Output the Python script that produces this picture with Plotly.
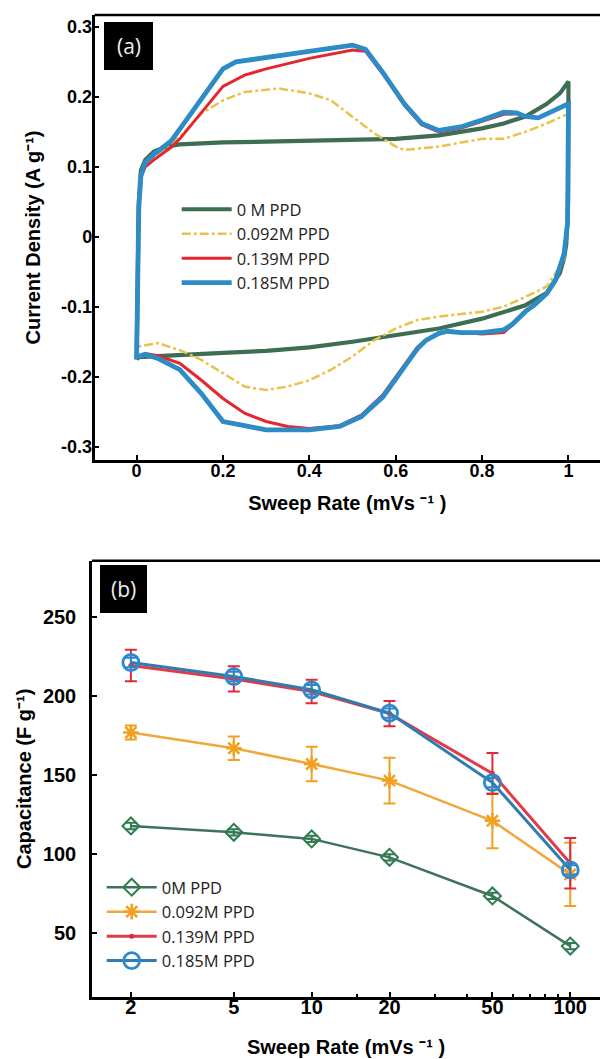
import plotly.graph_objects as go

W, H = 600, 1059

# ---------------- Panel (a): CV curves ----------------
series_a = ["0 M PPD", "0.092M PPD", "0.139M PPD", "0.185M PPD"]

green_fwd_x = [0, 0.002, 0.005, 0.01, 0.02, 0.04, 0.07, 0.1, 0.2, 0.3, 0.4, 0.5, 0.6, 0.7, 0.8, 0.85, 0.9, 0.95, 0.98, 1.0]
green_fwd_y = [-0.175, -0.05, 0.05, 0.095, 0.11, 0.122, 0.129, 0.132, 0.135, 0.136, 0.137, 0.138, 0.14, 0.145, 0.155, 0.162, 0.172, 0.19, 0.205, 0.222]
green_rev_x = [1.0, 0.999, 0.995, 0.99, 0.98, 0.95, 0.9, 0.8, 0.7, 0.6, 0.5, 0.4, 0.3, 0.2, 0.1, 0.05, 0.02, 0.005, 0]
green_rev_y = [0.222, 0.05, -0.01, -0.03, -0.052, -0.08, -0.098, -0.117, -0.131, -0.141, -0.15, -0.158, -0.163, -0.166, -0.169, -0.17, -0.171, -0.172, -0.175]

yellow_fwd_x = [0, 0.005, 0.02, 0.05, 0.1, 0.15, 0.2, 0.25, 0.33, 0.4, 0.45, 0.5, 0.55, 0.6, 0.62, 0.7, 0.8, 0.85, 0.9, 0.95, 1.0]
yellow_fwd_y = [-0.157, 0.079, 0.1, 0.119, 0.143, 0.176, 0.195, 0.207, 0.212, 0.205, 0.195, 0.171, 0.148, 0.129, 0.124, 0.129, 0.14, 0.14, 0.15, 0.162, 0.176]
yellow_rev_x = [1.0, 0.995, 0.99, 0.97, 0.95, 0.9, 0.85, 0.8, 0.7, 0.65, 0.6, 0.55, 0.5, 0.45, 0.4, 0.35, 0.3, 0.25, 0.2, 0.15, 0.1, 0.05, 0.02, 0]
yellow_rev_y = [0.176, 0.0, -0.033, -0.052, -0.071, -0.086, -0.1, -0.107, -0.114, -0.119, -0.131, -0.148, -0.171, -0.19, -0.205, -0.214, -0.219, -0.214, -0.195, -0.176, -0.162, -0.152, -0.155, -0.157]

red_fwd_x = [0, 0.002, 0.005, 0.01, 0.02, 0.04, 0.08, 0.1, 0.15, 0.2, 0.25, 0.3, 0.4, 0.47, 0.5, 0.53, 0.57, 0.62, 0.66, 0.7, 0.75, 0.8, 0.85, 0.88, 0.9, 0.93, 0.97, 1.0]
red_fwd_y = [-0.175, -0.05, 0.04, 0.085, 0.1, 0.11, 0.128, 0.14, 0.178, 0.215, 0.231, 0.24, 0.255, 0.263, 0.267, 0.265, 0.233, 0.188, 0.16, 0.15, 0.155, 0.165, 0.175, 0.176, 0.172, 0.17, 0.182, 0.19]
red_rev_x = [1.0, 0.998, 0.99, 0.97, 0.95, 0.92, 0.9, 0.87, 0.85, 0.8, 0.75, 0.72, 0.7, 0.67, 0.65, 0.62, 0.57, 0.52, 0.47, 0.4, 0.35, 0.3, 0.25, 0.2, 0.15, 0.1, 0.05, 0.02, 0]
red_rev_y = [0.19, 0.02, -0.024, -0.06, -0.08, -0.097, -0.106, -0.126, -0.137, -0.139, -0.137, -0.135, -0.137, -0.147, -0.158, -0.183, -0.226, -0.255, -0.27, -0.274, -0.271, -0.264, -0.252, -0.231, -0.205, -0.181, -0.17, -0.167, -0.172]

blue_fwd_x = [0, 0.002, 0.005, 0.01, 0.02, 0.04, 0.08, 0.1, 0.15, 0.2, 0.23, 0.3, 0.4, 0.47, 0.5, 0.53, 0.57, 0.62, 0.66, 0.7, 0.75, 0.8, 0.85, 0.88, 0.9, 0.93, 0.97, 1.0]
blue_fwd_y = [-0.175, -0.05, 0.04, 0.088, 0.106, 0.118, 0.137, 0.154, 0.197, 0.24, 0.25, 0.256, 0.265, 0.272, 0.274, 0.268, 0.235, 0.19, 0.162, 0.152, 0.157, 0.167, 0.178, 0.177, 0.172, 0.17, 0.182, 0.19]
blue_rev_x = [1.0, 0.998, 0.99, 0.97, 0.95, 0.92, 0.9, 0.87, 0.85, 0.8, 0.75, 0.72, 0.7, 0.67, 0.65, 0.62, 0.57, 0.52, 0.47, 0.4, 0.3, 0.25, 0.2, 0.15, 0.1, 0.05, 0.02, 0]
blue_rev_y = [0.19, 0.02, -0.024, -0.062, -0.081, -0.098, -0.107, -0.125, -0.133, -0.137, -0.137, -0.135, -0.138, -0.148, -0.16, -0.186, -0.229, -0.257, -0.271, -0.276, -0.276, -0.27, -0.264, -0.224, -0.19, -0.174, -0.168, -0.172]

a_xticks = [0, 0.2, 0.4, 0.6, 0.8, 1]
a_xticktext = ["0", "0.2", "0.4", "0.6", "0.8", "1"]
a_yticks = [-0.3, -0.2, -0.1, 0, 0.1, 0.2, 0.3]
a_yticktext = ["-0.3", "-0.2", "-0.1", "0", "0.1", "0.2", "0.3"]

# ---------------- Panel (b): capacitance vs sweep rate ----------------
series_b = ["0M PPD", "0.092M PPD", "0.139M PPD", "0.185M PPD"]
sweep_rates = [2, 5, 10, 20, 50, 100]
cap_0M = [117.7, 113.7, 109.5, 97.8, 73.3, 41.5]
err_0M = [2, 2, 2, 2, 2, 2]
cap_092M = [177, 167, 157, 146.5, 121, 87]
err_092M = [4.5, 7.5, 11, 14.5, 17.5, 20]
cap_139M = [219.5, 211, 203, 189, 151, 94]
err_139M = [10, 8, 7.5, 8, 13, 16]
cap_185M = [221.4, 212.5, 204.1, 189.3, 145.2, 89.8]
err_185M = [3, 3, 3, 3, 3, 3]
b_xticktext = ["2", "5", "10", "20", "50", "100"]
b_minor_ticks = [15, 30, 40, 60, 70, 80, 90]
b_yticks = [50, 100, 150, 200, 250]

x_title = "Sweep Rate (mVs \u207b\u00b9 )"
ya_title = "Current Density (A g\u207b\u00b9)"
yb_title = "Capacitance (F g\u207b\u00b9)"

# ---------------- style ----------------
FAM = "Liberation Sans, Arial"
TICKFONT_A = dict(family=FAM, size=18, color="black", weight="bold")
TICKFONT_B = dict(family=FAM, size=20, color="black", weight="bold")
TITLEFONT = dict(family=FAM, size=20, color="black", weight="bold")
LEGFONT = dict(family="Open Sans", size=16.5, color="#222")

fig = go.Figure()

a_style = [
    (green_fwd_x + green_rev_x, green_fwd_y + green_rev_y, "#3d6e52", 4.2, "solid"),
    (yellow_fwd_x + yellow_rev_x, yellow_fwd_y + yellow_rev_y, "#e8c24a", 2.5, "dashdot"),
    (red_fwd_x + red_rev_x, red_fwd_y + red_rev_y, "#e5262e", 3, "solid"),
    (blue_fwd_x + blue_rev_x, blue_fwd_y + blue_rev_y, "#2d8bc6", 4.8, "solid"),
]
for name, (xs, ys, col, wd, dash) in zip(series_a, a_style):
    fig.add_trace(go.Scatter(x=xs, y=ys, mode="lines", name=name,
                             line=dict(color=col, width=wd, dash=dash),
                             xaxis="x", yaxis="y", legend="legend"))

b_style = [
    (cap_0M, err_0M, "#3f7359", "#2e7d4f", "diamond-open", 13, 2, 2.5),
    (cap_092M, err_092M, "#f0a83a", "#f2a020", "asterisk-open", 13, 2.5, 2.5),
    (cap_139M, err_139M, "#e23a48", "#e02a3a", "circle", 5, 0, 3),
    (cap_185M, err_185M, "#2f7db0", "#2a8ad0", "circle-open", 16, 2.8, 3),
]
for name, (ys, es, lcol, mcol, sym, msz, mlw, lw) in zip(series_b, b_style):
    fig.add_trace(go.Scatter(
        x=sweep_rates, y=ys, mode="lines+markers", name=name,
        line=dict(color=lcol, width=lw),
        marker=dict(symbol=sym, size=msz, color=mcol, line=dict(color=mcol, width=mlw)),
        error_y=dict(type="data", array=es, visible=True, color=mcol, thickness=2, width=6),
        xaxis="x2", yaxis="y2", legend="legend2"))

ax_common = dict(showline=True, linecolor="black", linewidth=2.5, ticks="inside",
                 ticklen=5, tickwidth=1.5, tickcolor="black", showgrid=False,
                 zeroline=False, mirror=False)

fig.update_layout(
    width=W, height=H, margin=dict(l=0, r=0, t=0, b=0),
    paper_bgcolor="white", plot_bgcolor="white",
    xaxis=dict(domain=[94.5 / W, 1], range=[-0.0975, 1.073], anchor="y",
               tickvals=a_xticks, ticktext=a_xticktext, tickfont=TICKFONT_A,
               ticklabelstandoff=-7,
               title=dict(text=x_title, font=TITLEFONT, standoff=16),
               **ax_common),
    yaxis=dict(domain=[1 - 460 / H, 1 - 15 / H], range=[-0.319, 0.317], anchor="x",
               tickvals=a_yticks, ticktext=a_yticktext, tickfont=TICKFONT_A,
               ticklabelstandoff=-4,
               title=dict(text=ya_title, font=TITLEFONT, standoff=16),
               **ax_common),
    xaxis2=dict(domain=[92 / W, 1], type="log", range=[0.1506, 2.115], anchor="y2",
                tickvals=sweep_rates, ticktext=b_xticktext, tickfont=TICKFONT_B,
                ticklabelstandoff=-10,
                minor=dict(tickvals=b_minor_ticks, ticks="inside", ticklen=3, tickcolor="black"),
                title=dict(text=x_title, font=TITLEFONT, standoff=24),
                **ax_common),
    yaxis2=dict(domain=[1 - 997 / H, 1 - 560.7 / H], range=[9.2, 286], anchor="x2",
                tickvals=b_yticks, tickfont=TICKFONT_B, ticklabelstandoff=9,
                title=dict(text=yb_title, font=TITLEFONT, standoff=6),
                **ax_common),
    legend=dict(x=176.7 / W, y=1 - 192 / H, xanchor="left", yanchor="top",
                bgcolor="rgba(0,0,0,0)", borderwidth=0, font=LEGFONT, itemwidth=50,
                tracegroupgap=0),
    legend2=dict(x=101.7 / W, y=1 - 870 / H, xanchor="left", yanchor="top",
                 bgcolor="rgba(0,0,0,0)", borderwidth=0, font=LEGFONT, itemwidth=50,
                 tracegroupgap=0),
    showlegend=True,
    shapes=[
        dict(type="line", xref="paper", yref="paper", x0=94.5 / W, x1=1,
             y0=1 - 15 / H, y1=1 - 15 / H, line=dict(color="black", width=2.5)),
        dict(type="line", xref="paper", yref="paper", x0=92 / W, x1=1,
             y0=1 - 560.7 / H, y1=1 - 560.7 / H, line=dict(color="black", width=2.5)),
        dict(type="rect", xref="paper", yref="paper", x0=104 / W, x1=153 / W,
             y0=1 - 70 / H, y1=1 - 22 / H, fillcolor="black", line=dict(width=0)),
        dict(type="rect", xref="paper", yref="paper", x0=100 / W, x1=147 / W,
             y0=1 - 613 / H, y1=1 - 565 / H, fillcolor="black", line=dict(width=0)),
    ],
    annotations=[
        dict(text="(a)", xref="paper", yref="paper", x=128.5 / W, y=1 - 46 / H,
             xanchor="center", yanchor="middle", showarrow=False,
             font=dict(family="Open Sans", size=21, color="#eeeeee")),
        dict(text="(b)", xref="paper", yref="paper", x=123.5 / W, y=1 - 589 / H,
             xanchor="center", yanchor="middle", showarrow=False,
             font=dict(family="Open Sans", size=21, color="#eeeeee")),
    ],
)

fig.write_html("out.html", config={"displayModeBar": False},
               post_script="document.body.style.margin='0';document.body.style.padding='0';")
